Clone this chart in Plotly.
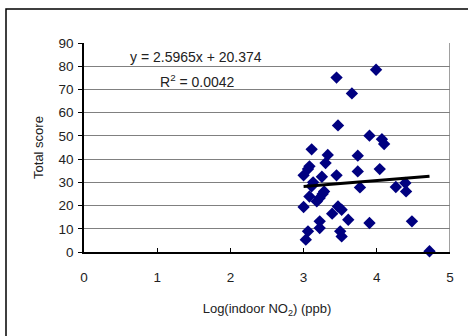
import plotly.graph_objects as go

# Data
log_no2 = [3.45, 3.99, 3.66, 3.47, 3.90, 4.07, 4.10, 3.11, 3.33, 3.30, 3.74,
           3.08, 3.06, 3.00, 3.25, 3.45, 3.74, 4.04, 3.11, 3.77, 4.26, 4.39,
           4.40, 3.28, 3.08, 3.22, 3.18, 3.00, 3.47, 3.52, 3.39, 3.61, 3.22,
           3.90, 4.48, 3.22, 3.06, 3.50, 3.52, 3.03, 4.72, 3.13, 3.26]
total_score = [75.1, 78.5, 68.3, 54.5, 50.1, 48.6, 46.5, 44.2, 41.8, 38.3, 41.5,
               36.9, 35.7, 33.0, 32.4, 33.0, 34.7, 35.7, 28.3, 27.8, 28.0, 29.7,
               26.1, 26.1, 23.9, 23.3, 21.8, 19.4, 19.6, 18.2, 16.5, 13.9, 13.2,
               12.5, 13.2, 10.3, 8.9, 8.9, 6.7, 5.3, 0.3, 30.0, 25.0]
slope = 2.5965
intercept = 20.374
equation_text = "y = 2.5965x + 20.374"
r2_text = "R<sup>2</sup> = 0.0042"
x_ticks = [0, 1, 2, 3, 4, 5]
y_ticks = [0, 10, 20, 30, 40, 50, 60, 70, 80, 90]

W, H = 468, 336
L, R, T, B = 84, 18, 43, 84
pw, ph = W - L - R, H - T - B

fnt = "Liberation Sans, Arial, sans-serif"

xmin, xmax = min(log_no2), max(log_no2)
trend_x = [xmin, xmax]
trend_y = [slope * v + intercept for v in trend_x]

fig = go.Figure()
fig.add_trace(go.Scatter(
    x=log_no2, y=total_score, mode="markers",
    marker=dict(symbol="diamond", size=9.5, color="#000080"),
    showlegend=False, cliponaxis=False))
fig.add_trace(go.Scatter(
    x=trend_x, y=trend_y, mode="lines",
    line=dict(color="black", width=3), showlegend=False))

fig.update_layout(
    width=W, height=H,
    margin=dict(l=L, r=R, t=T, b=B),
    paper_bgcolor="white", plot_bgcolor="white",
    font=dict(family=fnt, size=13.5, color="#222"),
    xaxis=dict(range=[0, 5], tickvals=x_ticks, showgrid=False, zeroline=False,
               showline=True, linecolor="black", linewidth=1.5,
               ticks="inside", ticklen=4, tickcolor="black",
               ticklabelstandoff=12,
               title=dict(text="Log(indoor NO<sub>2</sub>) (ppb)", standoff=20,
                          font=dict(size=13, color="#222"))),
    yaxis=dict(range=[0, 90], tickvals=y_ticks, showgrid=True,
               gridcolor="#808080", gridwidth=1, zeroline=False,
               showline=True, linecolor="black", linewidth=1.5,
               ticks="outside", ticklen=4, tickcolor="black",
               ticklabelstandoff=2,
               title=dict(text="Total score", standoff=12,
                          font=dict(size=13, color="#222"))),
    shapes=[
        dict(type="line", xref="x", yref="y", x0=5, x1=5, y0=0, y1=90,
             line=dict(color="#808080", width=1.5)),
        dict(type="rect", xref="paper", yref="paper",
             x0=(6 - L) / pw, x1=1.3, y0=-0.6, y1=(H - B - 9) / ph,
             line=dict(color="black", width=1.5), layer="below"),
    ],
    annotations=[
        dict(x=(196 - L) / pw, y=(H - B - 57) / ph, xref="paper", yref="paper",
             xanchor="center", yanchor="middle",
             text=equation_text, showarrow=False, font=dict(size=14, color="#222")),
        dict(x=(197 - L) / pw, y=(H - B - 81) / ph, xref="paper", yref="paper",
             xanchor="center", yanchor="middle",
             text=r2_text, showarrow=False, font=dict(size=14, color="#222")),
    ],
)

fig.write_html("out.html")
